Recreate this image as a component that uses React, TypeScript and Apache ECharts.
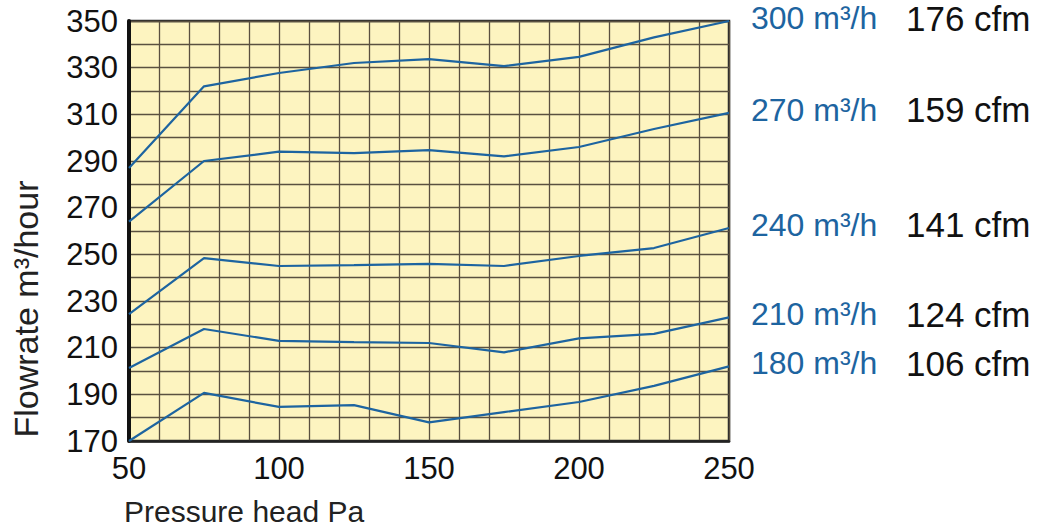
import React, { useEffect, useRef } from "react";
import * as echarts from "echarts";

const pressure = [50, 75, 100, 125, 150, 175, 200, 225, 250];
const flow300 = [287, 322, 327.7, 332, 333.7, 330.7, 334.6, 343, 350];
const flow270 = [264, 290, 294, 293.4, 294.7, 292, 296, 303.7, 310.6];
const flow240 = [224.4, 248.4, 245, 245.4, 245.9, 245, 249.3, 252.7, 261.3];
const flow210 = [201.3, 218, 212.9, 212.4, 212, 208, 214, 215.9, 223];
const flow180 = [170, 190.6, 184.6, 185.4, 178, 182.4, 186.7, 193.6, 202];
const seriesNames = ["300 m³/h", "270 m³/h", "240 m³/h", "210 m³/h", "180 m³/h"];
const cfmLabels = ["176 cfm", "159 cfm", "141 cfm", "124 cfm", "106 cfm"];
const seriesData = [flow300, flow270, flow240, flow210, flow180];

const FONT = "'Liberation Sans', Arial, sans-serif";
const BLUE = "#1d64a0";

export default function App() {
  const ref = useRef<HTMLDivElement>(null);
  useEffect(() => {
    if (!ref.current) return;
    const chart = echarts.init(ref.current, undefined, { renderer: "svg" });
    chart.setOption({
      animation: false,
      grid: {
        left: 129,
        right: 324,
        top: 21,
        bottom: 90,
        show: true,
        backgroundColor: "#fdf4c0",
        borderColor: "#2a2a2a",
        borderWidth: 2.5,
      },
      xAxis: {
        type: "value",
        min: 50,
        max: 250,
        interval: 10,
        axisLine: { show: true, lineStyle: { color: "#222", width: 2.5 } },
        axisTick: { show: false },
        splitLine: { show: true, lineStyle: { color: "#5a5040", width: 1.3 } },
        axisLabel: {
          fontSize: 31,
          fontFamily: FONT,
          color: "#111",
          margin: 12,
          formatter: (v: number) => (v % 50 === 0 ? String(v) : ""),
        },
      },
      yAxis: {
        type: "value",
        min: 170,
        max: 350,
        interval: 10,
        axisLine: { show: true, lineStyle: { color: "#111", width: 4 } },
        axisTick: { show: false },
        splitLine: { show: true, lineStyle: { color: "#5a5040", width: 1.3 } },
        axisLabel: {
          fontSize: 31,
          fontFamily: FONT,
          color: "#111",
          margin: 11,
          formatter: (v: number) => ((v - 170) % 20 === 0 ? String(v) : ""),
        },
      },
      graphic: [
        {
          type: "text",
          left: 124,
          top: 496,
          style: {
            text: "Pressure head Pa",
            fontSize: 30,
            fontFamily: FONT,
            fill: "#222",
          },
        },
        {
          type: "text",
          x: 26,
          y: 309,
          rotation: Math.PI / 2,
          style: {
            text: "Flowrate m³/hour",
            fontSize: 34,
            fontFamily: FONT,
            fill: "#222",
            align: "center",
            verticalAlign: "middle",
          },
        },
      ],
      series: seriesData.map((d, i) => ({
        type: "line",
        name: seriesNames[i],
        data: d.map((v, j) => [pressure[j], v]),
        symbol: "none",
        clip: false,
        lineStyle: { color: BLUE, width: 2.2 },
        endLabel: {
          show: true,
          distance: 22,
          offset: [0, -3],
          formatter: () => `{a|${seriesNames[i]}}{b|${cfmLabels[i]}}`,
          rich: {
            a: { fontSize: 32, fontFamily: FONT, color: BLUE, width: 155 },
            b: { fontSize: 35, fontFamily: FONT, color: "#111" },
          },
        },
      })),
    });
    return () => chart.dispose();
  }, []);
  return <div ref={ref} style={{ width: 1053, height: 531, position: "absolute", left: 0, top: 0 }} />;
}
